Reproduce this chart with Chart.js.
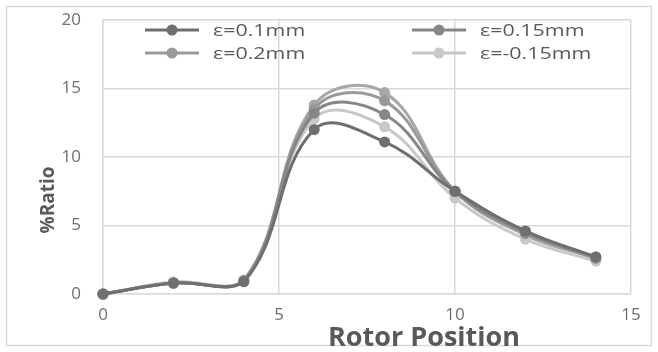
<!DOCTYPE html>
<html>
<head>
<meta charset="utf-8">
<script src="https://cdn.jsdelivr.net/npm/chart.js@4"></script>
<style>
  html, body { margin: 0; padding: 0; background: #ffffff; }
  #wrap { width: 658px; height: 352px; position: relative; }
</style>
</head>
<body>
<div id="wrap"><canvas id="c" width="658" height="352"></canvas></div>
<script>
// Rotor positions where the ratio was sampled
const positions = [0, 2, 4, 6, 8, 10, 12, 14];

// %Ratio for each eccentricity
const ratio_e010 = [0, 0.8, 0.9, 12.0, 11.1, 7.5, 4.6, 2.7];
const ratio_e015 = [0, 0.8, 0.9, 13.2, 13.1, 7.5, 4.5, 2.7];
const ratio_e020 = [0, 0.8, 1.0, 13.5, 14.1, 7.5, 4.4, 2.6];
const ratio_em015 = [0, 0.9, 1.0, 12.8, 12.2, 7.0, 4.0, 2.4];
const ratio_extra = [0, 0.8, 1.0, 13.8, 14.7, 7.5, 4.3, 2.6];

const seriesLabels = ['ε=0.1mm', 'ε=0.15mm', 'ε=0.2mm', 'ε=-0.15mm'];
const xTicks = [0, 5, 10, 15];
const yTicks = [0, 5, 10, 15, 20];

const toPoints = (vals) => positions.map((x, i) => ({ x: x, y: vals[i] }));

function ds(label, vals, color) {
  return {
    label: label,
    data: toPoints(vals),
    borderColor: color,
    backgroundColor: color,
    pointBackgroundColor: color,
    pointBorderColor: color,
    pointRadius: 5.5,
    pointBorderWidth: 0,
    borderWidth: 3,
    tension: 0.4,
    clip: 10,
    fill: false
  };
}

const FONT = '"Open Sans", "DejaVu Sans", sans-serif';
const TEXT = '#595959';
const TICK = '#6e6e6e';
const GRID = '#d9d9d9';

// Frame around the whole chart
const framePlugin = {
  id: 'frame',
  beforeDraw(chart) {
    const ctx = chart.ctx;
    ctx.save();
    ctx.fillStyle = '#ffffff';
    ctx.fillRect(0, 0, chart.width, chart.height);
    ctx.strokeStyle = GRID;
    ctx.lineWidth = 1.5;
    ctx.strokeRect(6.5, 6.5, chart.width - 13, chart.height - 13);
    ctx.restore();
  }
};

// Axis titles and the in-plot two-column legend
const overlayPlugin = {
  id: 'overlay',
  afterDraw(chart) {
    const ctx = chart.ctx;
    ctx.save();
    ctx.translate(49, 200);
    ctx.rotate(-Math.PI / 2);
    ctx.font = 'bold 19px ' + FONT;
    ctx.fillStyle = TEXT;
    ctx.textAlign = 'center';
    ctx.textBaseline = 'middle';
    ctx.fillText('%Ratio', 0, 0);
    ctx.restore();

    ctx.save();
    ctx.font = 'bold 27px ' + FONT;
    ctx.fillStyle = TEXT;
    ctx.textAlign = 'center';
    ctx.textBaseline = 'middle';
    ctx.fillText('Rotor Position', 424, 338);
    ctx.restore();

    // legend
    const cols = [145, 412];
    const rows = [30, 53];
    seriesLabels.forEach((lab, i) => {
      const d = chart.data.datasets[i];
      const x = cols[i % 2];
      const y = rows[Math.floor(i / 2)];
      ctx.save();
      ctx.strokeStyle = d.borderColor;
      ctx.lineWidth = 3;
      ctx.beginPath();
      ctx.moveTo(x, y);
      ctx.lineTo(x + 54, y);
      ctx.stroke();
      ctx.fillStyle = d.borderColor;
      ctx.beginPath();
      ctx.arc(x + 27, y, 5.5, 0, Math.PI * 2);
      ctx.fill();
      ctx.translate(x + 68, y + 1);
      ctx.scale(1.26, 1);
      ctx.font = '17px ' + FONT;
      ctx.textBaseline = 'middle';
      ctx.textAlign = 'left';
      ctx.fillStyle = TEXT;
      ctx.fillText(lab, 0, 0);
      ctx.restore();
    });
  }
};

new Chart(document.getElementById('c'), {
  type: 'line',
  data: {
    datasets: [
      ds(seriesLabels[0], ratio_e010, '#6f6f6f'),
      ds(seriesLabels[1], ratio_e015, '#868686'),
      ds(seriesLabels[2], ratio_e020, '#999999'),
      ds(seriesLabels[3], ratio_em015, '#c8c8c8'),
      ds('', ratio_extra, '#a8a8a8')
    ]
  },
  options: {
    responsive: false,
    animation: false,
    devicePixelRatio: 1,
    layout: { autoPadding: false, padding: { left: 0, top: 20, right: 27, bottom: 0 } },
    plugins: {
      legend: { display: false },
      title: { display: false },
      tooltip: { enabled: false }
    },
    scales: {
      x: {
        type: 'linear',
        min: 0,
        max: 15,
        afterBuildTicks(s) { s.ticks = xTicks.map(v => ({ value: v })); },
        afterFit(s) { s.height = 58; s.paddingLeft = 0; s.paddingRight = 0; },
        grid: { color: GRID, lineWidth: 1.5, drawTicks: false },
        border: { color: GRID, width: 1.5 },
        ticks: { color: TICK, font: { family: FONT, size: 17 }, padding: 11, maxRotation: 0 }
      },
      y: {
        type: 'linear',
        min: 0,
        max: 20,
        afterBuildTicks(s) { s.ticks = yTicks.map(v => ({ value: v })); },
        afterFit(s) { s.width = 103; s.paddingTop = 0; s.paddingBottom = 0; },
        grid: { color: GRID, lineWidth: 1.5, drawTicks: false },
        border: { color: GRID, width: 1.5 },
        ticks: { color: TICK, font: { family: FONT, size: 17 }, padding: 22 }
      }
    }
  },
  plugins: [framePlugin, overlayPlugin]
});
</script>
</body>
</html>
